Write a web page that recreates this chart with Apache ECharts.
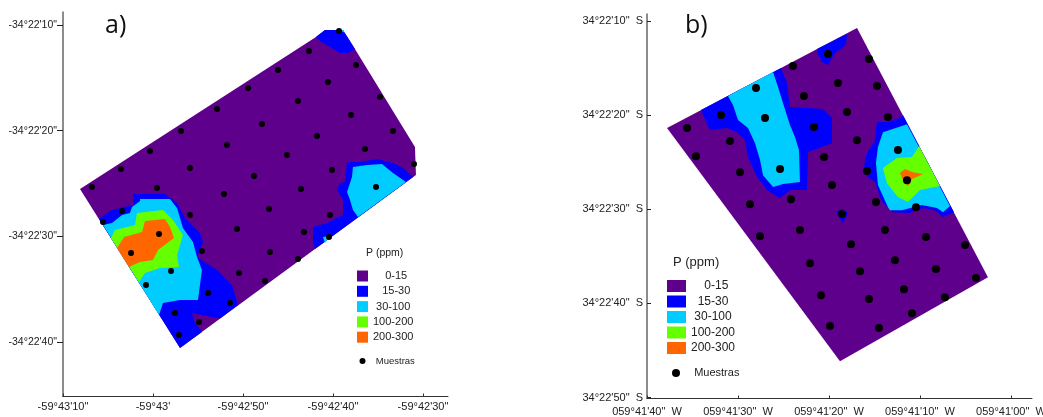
<!DOCTYPE html>
<html>
<head>
<meta charset="utf-8">
<style>html,body{margin:0;padding:0;background:#fff}#c{width:1043px;height:417px}</style>
<script src="https://cdn.jsdelivr.net/npm/echarts@6/dist/echarts.min.js"></script>
</head>
<body>
<div id="c"></div>
<script>
// Coordinates are arc-seconds: x from the first longitude tick, y past 34 deg 22'.
const classNames = ['0-15', '15-30', '30-100', '100-200', '200-300'];
const sampleName = 'Muestras';

const lonTicksA = [0, 10, 20, 30, 40];
const lonLabelsA = ['-59°43\'10"', '-59°43\'', '-59°42\'50"', '-59°42\'40"', '-59°42\'30"'];
const latTicksA = [10, 20, 30, 40];
const latLabelsA = ['-34°22\'10"', '-34°22\'20"', '-34°22\'30"', '-34°22\'40"'];

const lonTicksB = [0, 10, 20, 30, 40];
const lonLabelsB = ['059°41\'40"  W', '059°41\'30"  W', '059°41\'20"  W', '059°41\'10"  W', '059°41\'00"  W'];
const latTicksB = [10, 20, 30, 40, 50];
const latLabelsB = ['34°22\'10"  S', '34°22\'20"  S', '34°22\'30"  S', '34°22\'40"  S', '34°22\'50"  S'];

const samplesA = [[3.22,25.33],[6.44,23.63],[9.67,21.92],[13.11,20.03],[17.11,17.95],[20.56,15.96],[22.11,19.37],[18.22,21.36],[14.11,23.53],[21.22,24.29],[10.44,25.42],[17.89,25.99],[6.56,27.6],[4.44,28.64],[14.11,27.98],[19.33,29.3],[22.89,27.41],[10.67,29.78],[7.56,31.58],[15.44,31.39],[23,31.48],[12,33.28],[9.22,34.6],[19.56,33.47],[22.44,34.23],[16.11,35.36],[18.56,36.31],[12.44,37.25],[15.11,38.1],[12.89,39.34],[30.67,10.57],[27.33,12.46],[32.56,13.79],[23.89,14.26],[29.44,15.39],[35.22,16.81],[26.11,17.19],[32,18.52],[36.67,20.03],[28.22,20.5],[33.56,21.73],[24.89,22.3],[39,23.15],[29.89,23.72],[26.44,25.52],[34.78,25.33],[29.67,27.98],[26.78,29.59],[29.56,30.06],[26.11,32.14]];
const zonePurpleA = [[[1.89,25.52],[28.11,11.14],[29.11,10.47],[31.11,10.47],[32.44,12.27],[39.11,21.55],[39.22,24.19],[13,40.57]]];
const zoneBlueA = [
  [[4,28.36],[5.44,27.51],[6.33,27.32],[7.78,27.03],[7.78,25.99],[11.33,25.99],[12.67,26.84],[13.56,28.26],[15.22,29.68],[15.56,30.53],[14.89,31.95],[17.11,33.18],[18.78,34.6],[19.44,36.5],[17.44,37.77],[14.33,37.25],[14.67,38.2],[15.44,39.05],[13,40.57]],
  [[31.56,22.96],[33,22.96],[34.89,22.68],[36.67,23.06],[37.78,23.53],[38.89,24.38],[28,31.2],[27.78,30.53],[27.78,29.12],[29.33,28.74],[31.11,27.98],[31.11,26.56],[30.44,25.61],[30.78,24.95],[31.33,24.86]],
  [[28.11,11.14],[29.11,10.47],[31.11,10.47],[32.44,12.27],[31.67,12.65],[30.78,12.65],[29.33,11.89],[28.56,11.51]]
];
const zoneCyanA = [
  [[4.44,28.93],[5.44,28.74],[6.56,27.98],[7.44,27.79],[7.67,27.22],[8.56,26.65],[8.56,26.47],[11.89,26.47],[12.67,27.32],[13.33,29.21],[14.44,30.53],[14.89,31.95],[15.44,33.18],[15,36.02],[13,36.02],[11.11,36.31],[10.67,37.44]],
  [[32.22,23.44],[33.78,23.25],[35.44,23.15],[36.67,24],[38.11,24.86],[32.78,28.17],[32.22,27.51],[31.89,26.56],[31.56,25.8],[32.11,24.38]],
  [[28.89,30.06],[29.67,29.97],[29.11,30.63]],
  [[30.78,10.47],[31.11,10.47],[31.33,10.76]]
];
const zoneGreenA = [[[5.33,30.16],[5.78,29.4],[8,28.93],[8.22,27.79],[11.11,27.51],[12.22,28.45],[13.33,29.87],[12.67,31.76],[12.89,32.9],[10.78,33],[9.11,33.47],[8.44,34.32]]];
const zoneOrangeA = [[[6,31.1],[6.78,30.06],[8.78,29.59],[9.11,28.55],[11.33,28.36],[11.89,29.12],[12.33,30.16],[10.56,31.29],[10,32.24],[8.56,32.43],[7.33,32.9]]];

const samplesB = [[4.4,21.37],[8.13,19.99],[11.98,17.12],[16.04,14.78],[17.25,17.97],[12.97,20.31],[9.12,22.75],[5.38,24.35],[10.22,26.05],[14.62,25.73],[15.82,28.92],[11.32,29.45],[12.42,32.85],[16.81,32.21],[17.91,35.72],[19.89,13.51],[24.4,14.04],[20.99,16.59],[25.27,16.91],[21.98,19.67],[26.48,20.2],[18.35,21.26],[23.08,22.65],[27.58,23.71],[19.45,24.45],[24.18,25.94],[28.57,26.9],[20.33,27.43],[25.16,29.23],[29.56,29.77],[21.43,30.51],[26.15,32.21],[22.42,33.7],[30.66,32.95],[34.95,33.8],[23.41,36.57],[27.25,35.4],[31.76,36.35],[36.15,37.31],[19.12,39.12],[24.4,39.54],[28.24,38.48],[32.75,39.33],[29.12,41.03],[20.11,42.41],[25.49,42.62]];
const zonePurpleB = [[[2.2,21.37],[23.08,10.74],[37.47,37.21],[21.21,46.13]]];
const zoneBlueB = [
  [[5.93,19.46],[14.73,14.99],[15.38,16.59],[15.71,19.14],[19.34,19.35],[20.33,20.31],[20.33,22.97],[17.69,23.92],[17.58,27.96],[15.71,27.96],[14.62,28.81],[13.19,27.96],[12.09,26.58],[11.1,24.45],[10.77,22.65],[9.89,21.8],[8.79,21.37],[6.92,21.58]],
  [[18.68,12.98],[21.98,11.38],[21.87,12.55],[20.66,13.4],[19.89,14.68],[19.23,14.36],[18.79,13.61]],
  [[25.27,20.73],[26.48,20.73],[28.02,20.2],[28.13,19.99],[33.74,30.3],[32.53,30.83],[31.65,30.09],[30.33,29.87],[28.9,30.4],[27.03,30.3],[25.93,29.34],[25.6,28.7],[25.05,27.11],[23.74,26.15],[24.07,24.24],[25.05,22.65]],
  [[20.77,30.3],[21.43,29.98],[22.09,30.4],[21.54,31.47]]
];
const zoneCyanB = [
  [[8.9,17.97],[13.85,15.42],[14.4,17.01],[14.84,18.4],[15.71,21.05],[16.26,22.33],[16.7,23.71],[16.81,27.11],[14.95,27.32],[13.85,27.64],[12.75,26.37],[12.42,24.77],[11.87,22.97],[11.1,21.37],[10,20.52],[9.45,18.93]],
  [[28.57,20.95],[25.93,21.8],[25.38,23.39],[25.16,25.09],[25.38,27.43],[26.48,29.77],[26.7,30.09],[28.02,30.09],[30.22,29.55],[31.87,29.87],[32.53,30.3],[33.3,29.66]]
];
const zoneGreenB = [[[29.9,23.28],[29.12,24.45],[27.47,24.56],[25.93,25.62],[26.37,27.22],[27.58,28.7],[28.68,29.23],[30,27.96],[32.2,27.53]]];
const zoneOrangeB = [[[27.8,26.15],[28.35,25.73],[29.23,26.05],[30.33,26.26],[29.12,26.79],[28.68,27.53],[28.13,26.9]]];

const classColors = ['#5f008c', '#0000ff', '#00ccff', '#66ff00', '#ff6600'];
const FONT = '"Liberation Sans", Arial, sans-serif';

function zoneSeries(name, color, axis, polygons) {
  return {
    type: 'custom', name: name, xAxisIndex: axis, yAxisIndex: axis, silent: true, clip: true,
    itemStyle: { color: color },
    encode: { x: 0, y: 1 },
    data: polygons.map(p => p[0]),
    renderItem: function (params, api) {
      return {
        type: 'polygon', silent: true,
        shape: { points: polygons[params.dataIndex].map(pt => api.coord(pt)) },
        style: { fill: color }
      };
    }
  };
}
function sampleSeries(data, axis, size) {
  return {
    type: 'scatter', name: sampleName, xAxisIndex: axis, yAxisIndex: axis, silent: true,
    data: data, symbol: 'circle', symbolSize: size, itemStyle: { color: '#000', opacity: 1 }, z: 5
  };
}
function xAxisOf(grid, max, ticks, labels, margin) {
  return {
    type: 'value', gridIndex: grid, position: 'bottom', min: 0, max: max, splitLine: { show: false },
    axisLine: { show: true, onZero: false, lineStyle: { color: '#333', width: 1 } },
    axisTick: { show: true, inside: true, length: 3, customValues: ticks, lineStyle: { color: '#333' } },
    axisLabel: { show: true, customValues: ticks, margin: margin, color: '#222', fontFamily: FONT, fontSize: 11,
      hideOverlap: false, formatter: v => labels[ticks.indexOf(v)] }
  };
}
function yAxisOf(grid, min, max, ticks, labels, inside, margin, fontSize) {
  return {
    type: 'value', gridIndex: grid, inverse: true, position: 'left', min: min, max: max, splitLine: { show: false },
    axisLine: { show: true, onZero: false, lineStyle: { color: '#666', width: 1.5 } },
    axisTick: { show: true, inside: inside, length: inside ? 4 : 6, customValues: ticks, lineStyle: { color: '#222' } },
    axisLabel: { show: true, customValues: ticks, margin: margin, color: '#222', fontFamily: FONT, fontSize: fontSize,
      hideOverlap: false, formatter: v => labels[ticks.indexOf(v)] }
  };
}
function padLegend(pads) {
  return name => ' '.repeat(pads[classNames.indexOf(name)]) + name;
}

const chart = echarts.init(document.getElementById('c'), null, { renderer: 'canvas' });
chart.setOption({
  backgroundColor: '#ffffff',
  animation: false,
  title: [
    { text: 'a)', left: 105, top: 13, textStyle: { fontFamily: '"Open Sans", sans-serif', fontWeight: 'normal', fontSize: 25, color: '#111' }, padding: 0 },
    { text: 'b)', left: 685, top: 13, textStyle: { fontFamily: '"Open Sans", sans-serif', fontWeight: 'normal', fontSize: 25, color: '#111' }, padding: 0 },
    { text: 'P (ppm)', left: 366, top: 248, textStyle: { fontFamily: FONT, fontWeight: 'normal', fontSize: 10.5, color: '#222' }, padding: 0 },
    { text: 'P (ppm)', left: 673, top: 256, textStyle: { fontFamily: FONT, fontWeight: 'normal', fontSize: 13, color: '#222' }, padding: 0 }
  ],
  grid: [
    { left: 63, top: 12, width: 385, height: 384.5, containLabel: false, outerBoundsMode: 'none' },
    { left: 647, top: 14, width: 385, height: 384.5, containLabel: false, outerBoundsMode: 'none' }
  ],
  xAxis: [
    xAxisOf(0, 42.78, lonTicksA, lonLabelsA, 5),
    xAxisOf(1, 42.31, lonTicksB, lonLabelsB, 8)
  ],
  yAxis: [
    yAxisOf(0, 8.77, 45.16, latTicksA, latLabelsA, false, 6, 10.5),
    yAxisOf(1, 9.25, 50.1, latTicksB, latLabelsB, true, 4, 11)
  ],
  legend: [
    { left: 357, top: 270.5, orient: 'vertical', padding: 0, itemWidth: 11, itemHeight: 11, itemGap: 4.3, selectedMode: false,
      align: 'left', data: classNames.map(n => ({ name: n, icon: 'rect' })), formatter: padLegend([4, 3, 1, 0, 0]),
      textStyle: { fontFamily: FONT, fontSize: 11, color: '#222' } },
    { left: 359.5, top: 356, orient: 'vertical', padding: 0, itemWidth: 6, itemHeight: 6, selectedMode: false,
      data: [{ name: sampleName, icon: 'circle' }], formatter: n => '  ' + n,
      textStyle: { fontFamily: FONT, fontSize: 9.5, color: '#222' } },
    { left: 667, top: 280, orient: 'vertical', padding: 0, itemWidth: 19, itemHeight: 12, itemGap: 3.5, selectedMode: false,
      align: 'left', data: classNames.map(n => ({ name: n, icon: 'rect' })), formatter: padLegend([4, 2, 1, 0, 0]),
      textStyle: { fontFamily: FONT, fontSize: 12, color: '#222' } },
    { left: 672, top: 367.5, orient: 'vertical', padding: 0, itemWidth: 8, itemHeight: 8, selectedMode: false,
      data: [{ name: sampleName, icon: 'circle' }], formatter: n => '   ' + n,
      textStyle: { fontFamily: FONT, fontSize: 11, color: '#222' } }
  ],
  series: [
    zoneSeries(classNames[0], classColors[0], 0, zonePurpleA),
    zoneSeries(classNames[1], classColors[1], 0, zoneBlueA),
    zoneSeries(classNames[2], classColors[2], 0, zoneCyanA),
    zoneSeries(classNames[3], classColors[3], 0, zoneGreenA),
    zoneSeries(classNames[4], classColors[4], 0, zoneOrangeA),
    sampleSeries(samplesA, 0, 6),
    zoneSeries(classNames[0], classColors[0], 1, zonePurpleB),
    zoneSeries(classNames[1], classColors[1], 1, zoneBlueB),
    zoneSeries(classNames[2], classColors[2], 1, zoneCyanB),
    zoneSeries(classNames[3], classColors[3], 1, zoneGreenB),
    zoneSeries(classNames[4], classColors[4], 1, zoneOrangeB),
    sampleSeries(samplesB, 1, 8)
  ]
});
</script>
</body>
</html>
